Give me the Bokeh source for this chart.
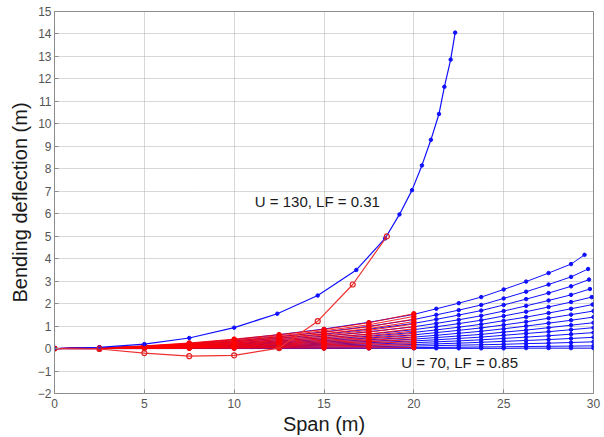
from bokeh.plotting import figure
from bokeh.models import FixedTicker, Range1d
from bokeh.core.properties import value
from bokeh.embed import file_html
from bokeh.resources import INLINE

# ---------------- data ----------------
x_ticks = [0, 5, 10, 15, 20, 25, 30]
y_ticks = list(range(-2, 16))

# blue family (30 m span), stations along span
blue_x = [0, 2.5, 5, 7.5, 10, 12.5, 15, 17.5, 20, 21.25, 22.5, 23.75, 25, 26.25, 27.5, 28.75, 30]
blue_tip_x = [29.5, 29.7, 29.75, 29.8, 29.9, 29.95, 30, 30, 30, 30, 30, 30, 30, 30, 30]
blue_fan_y = [
    [0, 0.03, 0.10, 0.22, 0.40, 0.62, 0.87, 1.17, 1.52, 1.77, 2.02, 2.29, 2.63, 2.98, 3.36, 3.76, 4.17],
    [0, 0.02, 0.08, 0.19, 0.34, 0.53, 0.74, 0.99, 1.29, 1.50, 1.71, 1.94, 2.23, 2.53, 2.85, 3.19, 3.54],
    [0, 0.02, 0.07, 0.16, 0.30, 0.46, 0.64, 0.86, 1.12, 1.30, 1.49, 1.69, 1.94, 2.20, 2.47, 2.77, 3.07],
    [0, 0.02, 0.06, 0.14, 0.25, 0.40, 0.55, 0.75, 0.97, 1.12, 1.28, 1.46, 1.67, 1.90, 2.14, 2.39, 2.65],
    [0, 0.02, 0.06, 0.12, 0.22, 0.34, 0.48, 0.64, 0.84, 0.97, 1.11, 1.26, 1.45, 1.64, 1.85, 2.07, 2.29],
    [0, 0.01, 0.05, 0.10, 0.19, 0.29, 0.41, 0.55, 0.72, 0.83, 0.95, 1.08, 1.24, 1.40, 1.58, 1.77, 1.96],
    [0, 0.01, 0.04, 0.09, 0.16, 0.25, 0.35, 0.47, 0.61, 0.71, 0.81, 0.92, 1.05, 1.19, 1.35, 1.51, 1.67],
    [0, 0.01, 0.03, 0.07, 0.13, 0.21, 0.29, 0.39, 0.51, 0.59, 0.68, 0.77, 0.88, 1.00, 1.13, 1.26, 1.40],
    [0, 0.01, 0.03, 0.06, 0.11, 0.17, 0.24, 0.32, 0.42, 0.49, 0.56, 0.63, 0.73, 0.82, 0.93, 1.04, 1.15],
    [0, 0.01, 0.02, 0.05, 0.09, 0.14, 0.19, 0.26, 0.34, 0.39, 0.45, 0.51, 0.59, 0.67, 0.75, 0.84, 0.93],
    [0, 0.01, 0.02, 0.04, 0.07, 0.11, 0.15, 0.20, 0.26, 0.30, 0.34, 0.39, 0.45, 0.51, 0.57, 0.64, 0.71],
    [0, 0.00, 0.01, 0.03, 0.05, 0.08, 0.11, 0.14, 0.18, 0.21, 0.24, 0.28, 0.32, 0.36, 0.40, 0.45, 0.50],
    [0, 0.00, 0.01, 0.02, 0.03, 0.05, 0.06, 0.08, 0.11, 0.13, 0.15, 0.17, 0.19, 0.22, 0.24, 0.27, 0.30],
    [0, 0.00, 0.00, 0.01, 0.01, 0.02, 0.03, 0.03, 0.04, 0.05, 0.06, 0.07, 0.08, 0.09, 0.10, 0.11, 0.12],
    [0, 0.00, 0.00, 0.00, 0.00, 0.00, 0.00, 0.01, 0.01, 0.01, 0.01, 0.01, 0.01, 0.02, 0.02, 0.02, 0.02],
]

# red family (20 m span)
red_x = [0, 2.5, 5, 7.5, 10, 12.5, 15, 17.5, 20]
red_fan_y = [
    [0, 0.03, 0.12, 0.25, 0.42, 0.62, 0.85, 1.15, 1.55],
    [0, 0.03, 0.11, 0.23, 0.39, 0.57, 0.79, 1.06, 1.43],
    [0, 0.03, 0.10, 0.21, 0.35, 0.52, 0.72, 0.97, 1.31],
    [0, 0.02, 0.10, 0.19, 0.32, 0.48, 0.66, 0.89, 1.20],
    [0, 0.02, 0.09, 0.17, 0.29, 0.44, 0.60, 0.81, 1.09],
    [0, 0.02, 0.08, 0.16, 0.26, 0.39, 0.54, 0.73, 0.98],
    [0, 0.02, 0.07, 0.14, 0.24, 0.35, 0.48, 0.65, 0.88],
    [0, 0.02, 0.06, 0.12, 0.21, 0.31, 0.43, 0.58, 0.78],
    [0, 0.01, 0.05, 0.11, 0.18, 0.27, 0.37, 0.50, 0.68],
    [0, 0.01, 0.05, 0.09, 0.16, 0.23, 0.32, 0.43, 0.58],
    [0, 0.01, 0.04, 0.08, 0.13, 0.20, 0.27, 0.36, 0.49],
    [0, 0.01, 0.03, 0.06, 0.11, 0.16, 0.22, 0.30, 0.40],
    [0, 0.01, 0.02, 0.05, 0.08, 0.12, 0.17, 0.23, 0.31],
    [0, 0.00, 0.02, 0.04, 0.06, 0.09, 0.12, 0.16, 0.22],
    [0, 0.00, 0.01, 0.02, 0.04, 0.05, 0.07, 0.10, 0.13],
    [0, 0.00, 0.00, 0.01, 0.01, 0.02, 0.02, 0.03, 0.04],
]

# U = 130, LF = 0.31 (blue)
u130_x = [0, 2.5, 5, 7.5, 10, 12.4, 14.65, 16.8, 18.4, 19.2, 19.9, 20.45, 20.95, 21.4, 21.7, 22.05, 22.3]
u130_y = [0, 0.05, 0.2, 0.47, 0.93, 1.55, 2.36, 3.5, 4.9, 5.97, 7.05, 8.15, 9.29, 10.44, 11.65, 12.86, 14.06]

# red curve that dips below zero
red_sp_x = [0, 2.5, 5, 7.5, 10, 12.5, 14.65, 16.6, 18.5]
red_sp_y = [0, -0.02, -0.2, -0.34, -0.3, 0.02, 1.22, 2.85, 4.99]

labels = ["U = 130, LF = 0.31", "U = 70, LF = 0.85"]
label_x = [11.15, 19.3]
label_y = [6.56, -0.63]

# ---------------- figure ----------------
FONT = "Liberation Sans"
BLUE = "#1010ff"
RED = "#ff0000"

p = figure(width=604, height=437, output_backend="svg", toolbar_location=None,
           x_range=Range1d(0, 30), y_range=Range1d(-2, 15),
           min_border_left=54, min_border_right=11, min_border_top=11, min_border_bottom=42)
p.background_fill_color = "white"
p.border_fill_color = "white"
p.outline_line_color = "#8c8c8c"
p.outline_line_width = 1

for ax in (p.xaxis, p.yaxis):
    ax.axis_line_color = "#8c8c8c"
    ax.major_tick_line_color = "#8c8c8c"
    ax.major_tick_in = 4
    ax.major_tick_out = 0
    ax.minor_tick_line_color = None
    ax.major_label_text_font = FONT
    ax.major_label_text_font_size = "12px"
    ax.major_label_text_color = "#555555"
    ax.axis_label_text_font = FONT
    ax.axis_label_text_font_style = "normal"
    ax.axis_label_text_color = "#1a1a1a"
    ax.axis_label_text_font_size = "20px"

p.xaxis.ticker = FixedTicker(ticks=x_ticks)
p.yaxis.ticker = FixedTicker(ticks=y_ticks)
p.xaxis.axis_label = "Span (m)"
p.yaxis.axis_label = "Bending deflection (m)"
p.xaxis.major_label_standoff = 5
p.yaxis.major_label_standoff = 3
p.xaxis.axis_label_standoff = 2
p.yaxis.axis_label_standoff = 4

for g in (p.xgrid, p.ygrid):
    g.grid_line_color = "#b0b0b0"
    g.grid_line_dash = "1 1"
    g.grid_line_width = 1
p.xgrid.ticker = FixedTicker(ticks=x_ticks)
p.ygrid.ticker = FixedTicker(ticks=y_ticks)

# blue fan
bxs = [blue_x[:-1] + [t] for t in blue_tip_x]
p.multi_line(xs=bxs, ys=blue_fan_y, line_color=BLUE, line_width=1)
for xs, ys in zip(bxs, blue_fan_y):
    p.scatter(xs, ys, size=3.5, marker="circle", fill_color=BLUE, line_color=BLUE)

# red fan
rxs = [red_x for _ in red_fan_y]
p.multi_line(xs=rxs, ys=red_fan_y, line_color=RED, line_width=1, line_alpha=0.85)
for ys in red_fan_y:
    p.scatter(red_x, ys, size=4.5, marker="circle", fill_color=RED, line_color=RED)

# U = 130 curve
p.line(u130_x, u130_y, line_color=BLUE, line_width=1.2)
p.scatter(u130_x, u130_y, size=3.5, marker="circle", fill_color=BLUE, line_color=BLUE)

# red dipping curve
p.line(red_sp_x, red_sp_y, line_color="#f03030", line_width=1.2)
p.scatter(red_sp_x, red_sp_y, size=5, marker="circle", fill_color=None,
          line_color="#e02020", line_width=1.2)

p.text(x=label_x, y=label_y, text=labels, text_font=value(FONT), text_font_size="15px",
       text_color="#1a1a1a", text_baseline="middle", text_align="left")

open("out.html", "w").write(file_html(p, INLINE))
